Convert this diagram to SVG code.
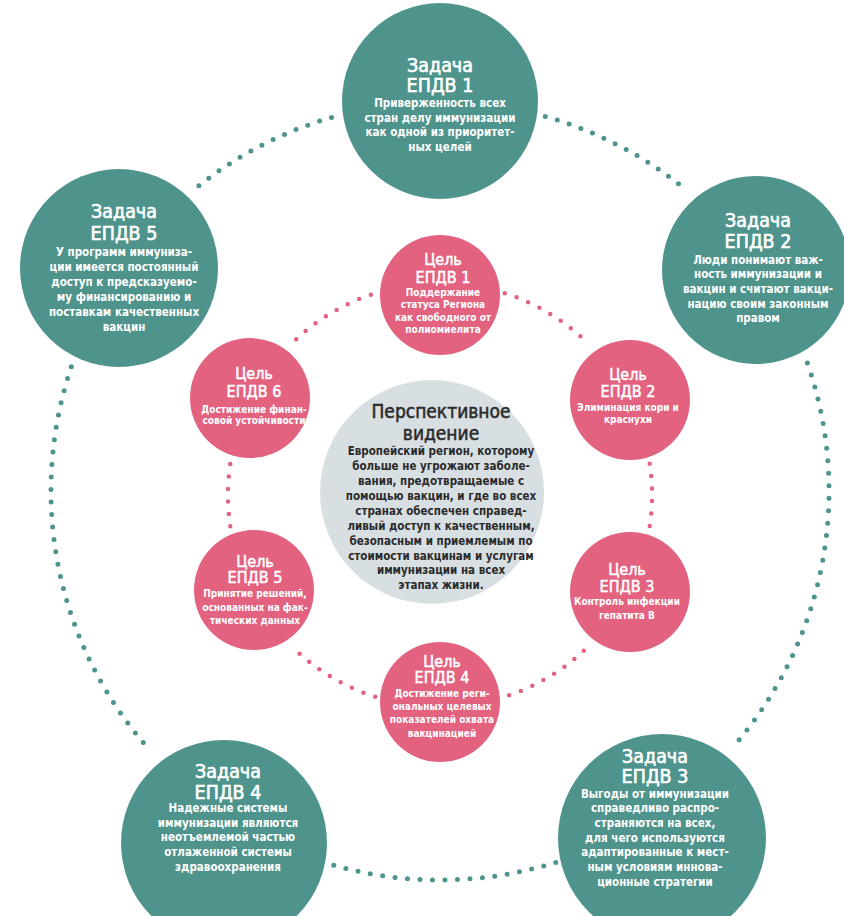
<svg xmlns="http://www.w3.org/2000/svg" width="844" height="916" viewBox="0 0 844 916">
<style>
.t{fill:#4f948c}
.p{fill:#e2627f}
.g{fill:#d8dfe3}
text{font-family:'DejaVu Sans Condensed','DejaVu Sans','Liberation Sans',sans-serif;font-stretch:condensed;text-anchor:middle}
.tt{fill:#fff;stroke:#fff;stroke-width:0.6;font-size:19.5px}
.tb{fill:#fff;font-size:11.5px;font-weight:bold}
.pt{fill:#fff;stroke:#fff;stroke-width:0.5;font-size:16px}
.pb{fill:#fff;font-size:10px;font-weight:bold}
.ct{fill:#2a2a2a;stroke:#2a2a2a;stroke-width:0.5;font-size:19px}
.cb{fill:#2a2a2a;font-size:11.5px;font-weight:bold}
.od{fill:none;stroke:#4f948c;stroke-width:5;stroke-linecap:round;stroke-dasharray:0 12.5}
.id{fill:none;stroke:#e2627f;stroke-width:4.5;stroke-linecap:round;stroke-dasharray:0 12.5}
</style>
<rect width="844" height="916" fill="#fff"/>
<g id="connectors">
<path class="od" d="M545.3 116.5 A389 389 0 0 1 685.3 189.1"/>
<path class="od" d="M807.4 363.1 A389 389 0 0 1 738 741"/>
<path class="od" d="M555.7 862.4 A389 389 0 0 1 323 862"/>
<path class="od" d="M143.3 742.6 A389 389 0 0 1 72.6 363.1"/>
<path class="od" d="M198.9 185.7 A389 389 0 0 1 334.1 116.7"/>
<path class="id" d="M296.2 339.2 A212 212 0 0 1 375.2 293.2"/>
<path class="id" d="M504.8 293.2 A212 212 0 0 1 583.8 339.2"/>
<path class="id" d="M649.7 463.7 A212 212 0 0 1 649.7 526.3"/>
<path class="id" d="M583.8 650.8 A212 212 0 0 1 504.8 696.8"/>
<path class="id" d="M375.2 696.8 A212 212 0 0 1 296.2 650.8"/>
<path class="id" d="M230.3 526.3 A212 212 0 0 1 230.3 463.7"/>
</g>
<g id="vision">
<circle class="g" cx="432" cy="492" r="112"/>
<text class="ct" x="441" y="418">Перспективное</text>
<text class="ct" x="441" y="440">видение</text>
<text class="cb" x="441" y="455">Европейский регион, которому</text>
<text class="cb" x="441" y="470">больше не угрожают заболе-</text>
<text class="cb" x="441" y="485">вания, предотвращаемые с</text>
<text class="cb" x="441" y="500">помощью вакцин, и где во всех</text>
<text class="cb" x="441" y="515">странах обеспечен справед-</text>
<text class="cb" x="441" y="530">ливый доступ к качественным,</text>
<text class="cb" x="441" y="545">безопасным и приемлемым по</text>
<text class="cb" x="441" y="560">стоимости вакцинам и услугам</text>
<text class="cb" x="441" y="574">иммунизации на всех</text>
<text class="cb" x="441" y="589">этапах жизни.</text>
</g>
<g id="task1">
<circle class="t" cx="440" cy="101" r="98"/>
<text class="tt" x="440" y="72">Задача</text>
<text class="tt" x="440" y="92">ЕПДВ 1</text>
<text class="tb" x="440" y="107">Приверженность всех</text>
<text class="tb" x="440" y="121.5">стран делу иммунизации</text>
<text class="tb" x="440" y="136">как одной из приоритет-</text>
<text class="tb" x="440" y="150.5">ных целей</text>
</g>
<g id="task2">
<circle class="t" cx="756" cy="270" r="94"/>
<text class="tt" x="758" y="227">Задача</text>
<text class="tt" x="758" y="248">ЕПДВ 2</text>
<text class="tb" x="758" y="264">Люди понимают важ-</text>
<text class="tb" x="758" y="278">ность иммунизации и</text>
<text class="tb" x="758" y="293">вакцин и считают вакци-</text>
<text class="tb" x="758" y="308">нацию своим законным</text>
<text class="tb" x="758" y="322">правом</text>
</g>
<g id="task3">
<circle class="t" cx="662" cy="838" r="104"/>
<text class="tt" x="655" y="763">Задача</text>
<text class="tt" x="655" y="783">ЕПДВ 3</text>
<text class="tb" x="655" y="798">Выгоды от иммунизации</text>
<text class="tb" x="655" y="812">справедливо распро-</text>
<text class="tb" x="655" y="827">страняются на всех,</text>
<text class="tb" x="655" y="842">для чего используются</text>
<text class="tb" x="655" y="856">адаптированные к мест-</text>
<text class="tb" x="655" y="871">ным условиям иннова-</text>
<text class="tb" x="655" y="886">ционные стратегии</text>
</g>
<g id="task4">
<circle class="t" cx="224" cy="843" r="103"/>
<text class="tt" x="228" y="778">Задача</text>
<text class="tt" x="228" y="799">ЕПДВ 4</text>
<text class="tb" x="228" y="812">Надежные системы</text>
<text class="tb" x="228" y="827">иммунизации являются</text>
<text class="tb" x="228" y="841">неотъемлемой частью</text>
<text class="tb" x="228" y="856">отлаженной системы</text>
<text class="tb" x="228" y="871">здравоохранения</text>
</g>
<g id="task5">
<circle class="t" cx="119" cy="268" r="99"/>
<text class="tt" x="124" y="218">Задача</text>
<text class="tt" x="124" y="240">ЕПДВ 5</text>
<text class="tb" x="124" y="256">У программ иммуниза-</text>
<text class="tb" x="124" y="271">ции имеется постоянный</text>
<text class="tb" x="124" y="286">доступ к предсказуемо-</text>
<text class="tb" x="124" y="301">му финансированию и</text>
<text class="tb" x="124" y="316">поставкам качественных</text>
<text class="tb" x="124" y="331">вакцин</text>
</g>
<g id="goal1">
<circle class="p" cx="440" cy="295" r="60"/>
<text class="pt" x="443" y="265">Цель</text>
<text class="pt" x="443" y="283">ЕПДВ 1</text>
<text class="pb" x="443" y="296">Поддержание</text>
<text class="pb" x="443" y="308">статуса Региона</text>
<text class="pb" x="443" y="321">как свободного от</text>
<text class="pb" x="443" y="333">полиомиелита</text>
</g>
<g id="goal2">
<circle class="p" cx="630" cy="400" r="60"/>
<text class="pt" x="628" y="380">Цель</text>
<text class="pt" x="628" y="397">ЕПДВ 2</text>
<text class="pb" x="628" y="411">Элиминация кори и</text>
<text class="pb" x="628" y="423">краснухи</text>
</g>
<g id="goal3">
<circle class="p" cx="630" cy="592" r="60"/>
<text class="pt" x="627" y="575">Цель</text>
<text class="pt" x="627" y="592">ЕПДВ 3</text>
<text class="pb" x="627" y="605">Контроль инфекции</text>
<text class="pb" x="627" y="619">гепатита В</text>
</g>
<g id="goal4">
<circle class="p" cx="440" cy="702" r="60"/>
<text class="pt" x="442" y="667">Цель</text>
<text class="pt" x="442" y="683">ЕПДВ 4</text>
<text class="pb" x="442" y="697">Достижение реги-</text>
<text class="pb" x="442" y="710">ональных целевых</text>
<text class="pb" x="442" y="723">показателей охвата</text>
<text class="pb" x="442" y="737">вакцинацией</text>
</g>
<g id="goal5">
<circle class="p" cx="254" cy="590" r="60"/>
<text class="pt" x="255" y="567">Цель</text>
<text class="pt" x="255" y="583">ЕПДВ 5</text>
<text class="pb" x="255" y="597">Принятие решений,</text>
<text class="pb" x="255" y="611">основанных на фак-</text>
<text class="pb" x="255" y="624">тических данных</text>
</g>
<g id="goal6">
<circle class="p" cx="250" cy="398" r="60"/>
<text class="pt" x="254" y="379">Цель</text>
<text class="pt" x="254" y="397">ЕПДВ 6</text>
<text class="pb" x="254" y="413">Достижение финан-</text>
<text class="pb" x="254" y="424">совой устойчивости</text>
</g>
</svg>
